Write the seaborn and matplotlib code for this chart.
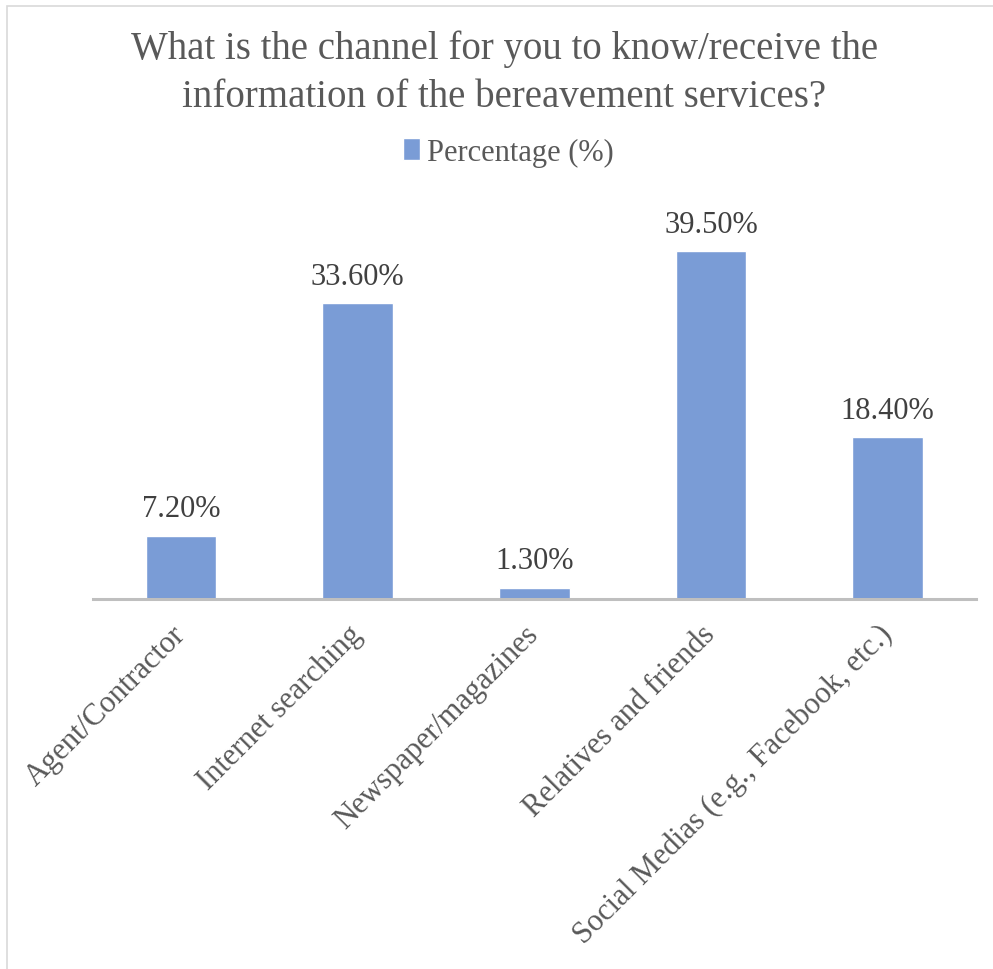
import pandas as pd
import matplotlib.pyplot as plt
import seaborn as sns
from matplotlib.patches import Rectangle

# Data
categories = ['Agent/Contractor', 'Internet searching', 'Newspaper/magazines',
              'Relatives and friends', 'Social Medias (e.g., Facebook, etc.)']
percentages = [7.2, 33.6, 1.3, 39.5, 18.4]
value_labels = ['7.20%', '33.60%', '1.30%', '39.50%', '18.40%']
series_name = 'Percentage (%)'
title_lines = ['What is the channel for you to know/receive the',
               'information of the bereavement services?']

df = pd.DataFrame({'Channel': categories, 'Value': percentages, 'Series': series_name})

sns.set_style('white')
plt.rcParams['font.family'] = ['Liberation Serif', 'DejaVu Serif']

bar_color = '#7A9CD6'
text_gray = '#595959'
label_gray = '#404040'

fig = plt.figure(figsize=(9.93, 9.70), dpi=100)
ax = fig.add_axes([92.5 / 993, 370 / 970, 883.5 / 993, 396 / 970])

sns.barplot(data=df, x='Channel', y='Value', hue='Series', palette=[bar_color],
            saturation=1, width=0.4, ax=ax, legend=False)

ax.set_ylim(0, 45)
ax.set_xlim(-0.5, len(categories) - 0.5)
ax.set_yticks([])
ax.set_xlabel('')
ax.set_ylabel('')
for s in ['left', 'right', 'top']:
    ax.spines[s].set_visible(False)
ax.spines['bottom'].set_color('#BFBFBF')
ax.spines['bottom'].set_linewidth(2.2)
ax.tick_params(axis='x', length=0, pad=22)

ax.set_xticks(range(len(categories)))
ax.set_xticklabels(categories, rotation=45, ha='right', va='center',
                   rotation_mode='anchor', fontsize=22, color=text_gray)

# Data labels
for container in ax.containers:
    ax.bar_label(container, labels=value_labels, padding=9, fontsize=22, color=label_gray)

# Title
fig.text(0.508, 1 - 59 / 970, title_lines[0], ha='center', va='baseline',
         fontsize=28, color=text_gray)
fig.text(0.508, 1 - 107 / 970, title_lines[1], ha='center', va='baseline',
         fontsize=28, color=text_gray)

# Legend
handle = Rectangle((0, 0), 1, 1, facecolor=bar_color)
fig.legend([handle], [series_name], loc='center', bbox_to_anchor=(0.512, 1 - 153 / 970),
           frameon=False, fontsize=22, labelcolor=text_gray, handlelength=0.55,
           handleheight=0.7, handletextpad=0.25)

# Chart area border
fig.patches.append(Rectangle((7 / 993, -0.1), 1.2, 0.1 + 963 / 970, transform=fig.transFigure,
                             fill=False, edgecolor='#D9D9D9', linewidth=1.2))

plt.savefig('out.png', dpi=100)
